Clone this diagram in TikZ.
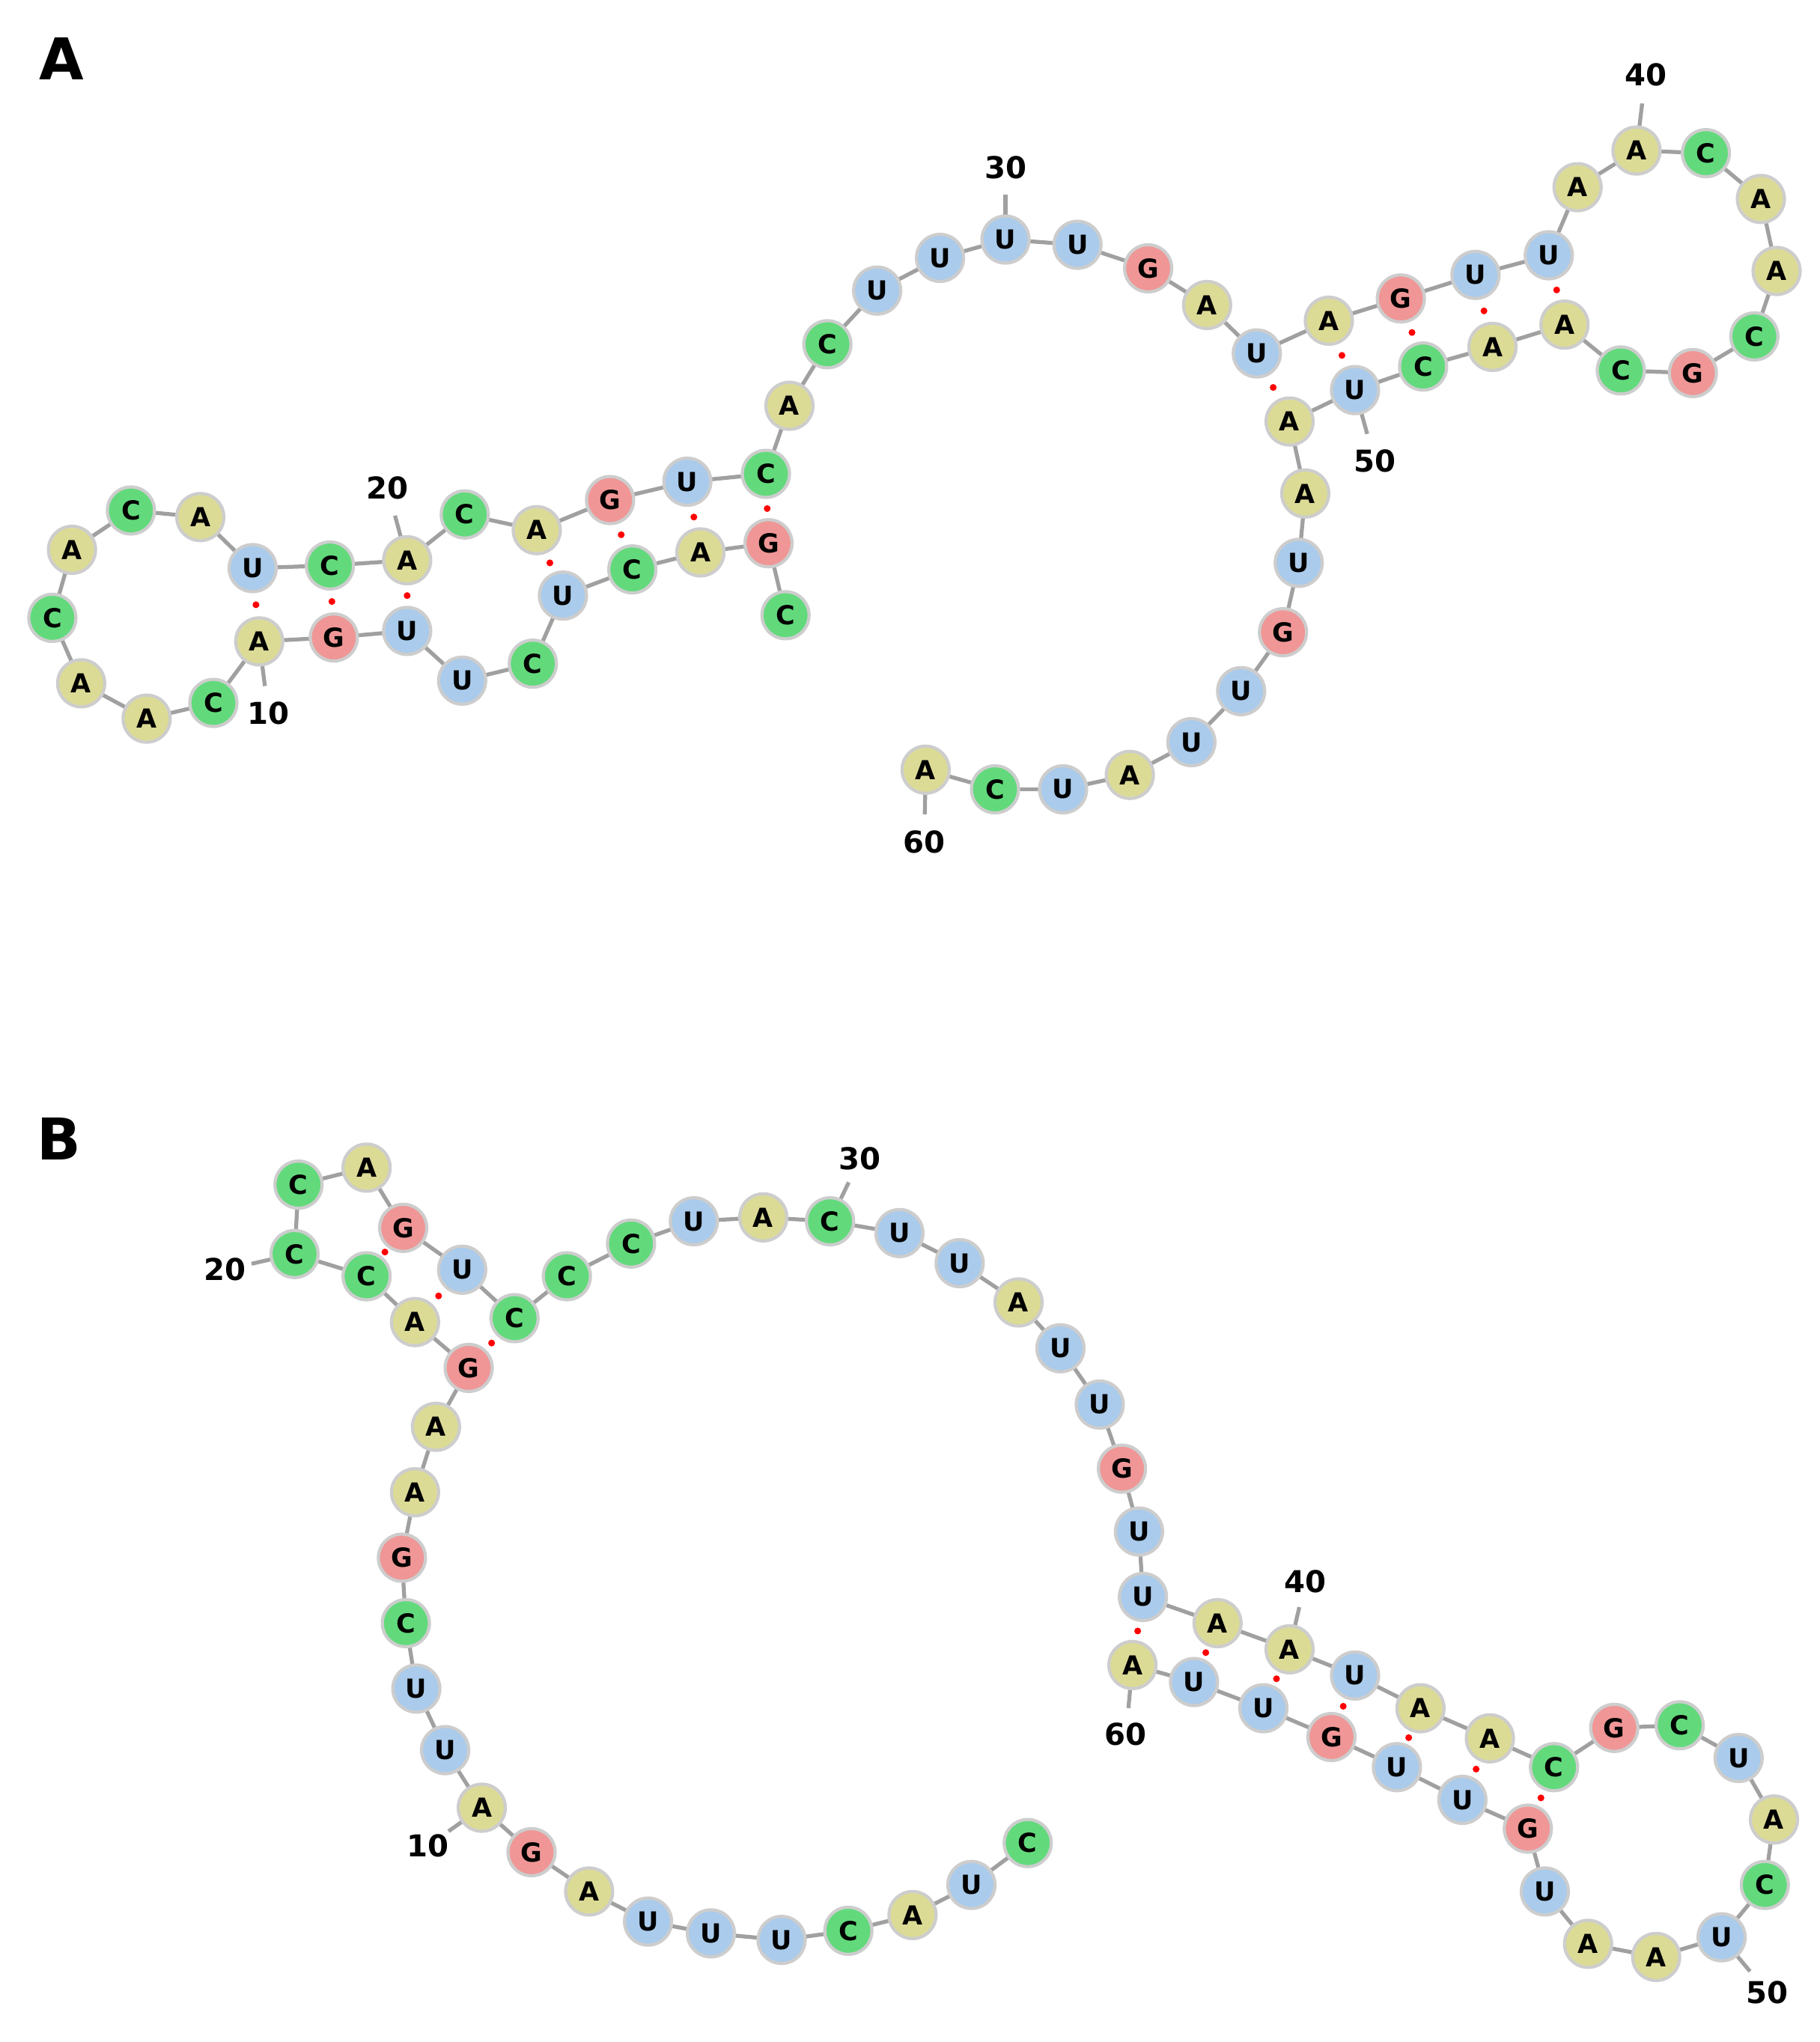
\documentclass[tikz,border=0pt]{standalone}
\usepackage{fontspec}
\setmainfont{DejaVu Sans}
\usetikzlibrary{backgrounds,calc}
\definecolor{colA}{RGB}{220,219,150}
\definecolor{colC}{RGB}{98,218,124}
\definecolor{colU}{RGB}{170,203,235}
\definecolor{colG}{RGB}{240,150,150}
\definecolor{rim}{RGB}{205,205,205}
\definecolor{bbc}{RGB}{160,160,160}
\tikzset{
 nt/.style={circle,draw=rim,line width=1.2pt,fill=col#1,minimum size=18pt,inner sep=0pt,font=\fontsize{10}{12}\selectfont\bfseries},
 bb/.style={draw=bbc,line width=1.5pt},
 pairdot/.style={fill=red,circle,inner sep=0pt,minimum size=2.6pt},
 numlab/.style={font=\fontsize{11.5}{13}\selectfont\bfseries},
 panel/.style={font=\fontsize{22}{26}\selectfont\bfseries}
}
\begin{document}
\begin{tikzpicture}[x=0.5pt,y=-0.5pt]
\useasboundingbox (0,0) rectangle (1390,1560);
\node[panel] (pA) at (47,45) {A};
\node[panel] (pB) at (45,870) {B};
% Panel A
\foreach \i/\x/\y/\b in {1/600/470/C,2/587/415/G,3/535/422/A,4/483/435/C,5/430/455/U,6/407/507/C,7/353/520/U,8/311/482/U,9/255/487/G,10/198/490/A,
11/163/537/C,12/112/549/A,13/62/522/A,14/40/472/C,15/55/420/A,16/100/390/C,17/153/395/A,18/193/434/U,19/252/432/C,20/311/428/A,
21/355/393/C,22/410/405/A,23/466/382/G,24/525/368/U,25/585/362/C,26/603/310/A,27/632/263/C,28/670/222/U,29/718/197/U,30/768/183/U,
31/823/187/U,32/877/205/G,33/922/233/A,34/960/270/U,35/1015/245/A,36/1070/228/G,37/1127/210/U,38/1183/195/U,39/1205/143/A,40/1250/115/A,
41/1303/117/C,42/1345/152/A,43/1357/207/A,44/1340/257/C,45/1293/285/G,46/1238/283/C,47/1195/248/A,48/1140/265/A,49/1087/280/C,50/1035/298/U,
51/985/322/A,52/997/377/A,53/992/430/U,54/980/483/G,55/948/528/U,56/910/567/U,57/863/592/A,58/812/603/U,59/760/603/C,60/707/588/A}
 \node[nt=\b] (a\i) at (\x,\y) {\b};
\begin{scope}[on background layer]
\foreach \i [evaluate=\i as \j using int(\i+1)] in {1,...,59} \draw[bb] (a\i.center) -- (a\j.center);
\end{scope}
\foreach \p/\q in {2/25,3/24,4/23,5/22,8/20,9/19,10/18,34/51,35/50,36/49,37/48,38/47}
 \node[pairdot] at ($(a\p)!0.5!(a\q)$) {};
\foreach \n/\x/\y/\t in {10/205/545/10,20/296/373/20,30/768/128/30,40/1257/57/40,50/1050/352/50,60/706/643/60}{
 \node[numlab] (la\t) at (\x,\y) {\t};
 \begin{scope}[on background layer]\draw[bb] (a\n.center) -- ($(a\n)!0.62!(la\t)$);\end{scope}}
% Panel B
\foreach \i/\x/\y/\b in {1/785/1408/C,2/742/1440/U,3/697/1463/A,4/648/1475/C,5/597/1482/U,6/543/1477/U,7/495/1468/U,8/450/1445/A,9/406/1415/G,10/368/1381/A,
11/340/1337/U,12/318/1290/U,13/310/1240/C,14/307/1190/G,15/317/1140/A,16/333/1090/A,17/358/1045/G,18/317/1010/A,19/280/975/C,20/225/958/C,
21/228/905/C,22/280/892/A,23/308/938/G,24/353/970/U,25/393/1007/C,26/433/975/C,27/482/950/C,28/530/933/U,29/583/930/A,30/634/933/C,
31/687/942/U,32/733/965/U,33/778/995/A,34/810/1030/U,35/840/1073/U,36/857/1122/G,37/870/1170/U,38/873/1220/U,39/930/1240/A,40/985/1260/A,
41/1035/1280/U,42/1085/1305/A,43/1138/1328/A,44/1187/1350/C,45/1233/1320/G,46/1283/1318/C,47/1328/1343/U,48/1355/1390/A,49/1348/1440/C,50/1315/1480/U,
51/1265/1495/A,52/1213/1485/A,53/1180/1445/U,54/1167/1397/G,55/1117/1375/U,56/1067/1350/U,57/1017/1327/G,58/965/1305/U,59/912/1285/U,60/865/1272/A}
 \node[nt=\b] (b\i) at (\x,\y) {\b};
\begin{scope}[on background layer]
\foreach \i [evaluate=\i as \j using int(\i+1)] in {1,...,59} \draw[bb] (b\i.center) -- (b\j.center);
\end{scope}
\foreach \p/\q in {19/23,18/24,17/25,38/60,39/59,40/58,41/57,42/56,43/55,44/54}
 \node[pairdot] at ($(b\p)!0.5!(b\q)$) {};
\foreach \n/\x/\y/\t in {10/327/1410/10,20/172/970/20,30/657/885/30,40/997/1208/40,50/1350/1522/50,60/860/1325/60}{
 \node[numlab] (lb\t) at (\x,\y) {\t};
 \begin{scope}[on background layer]\draw[bb] (b\n.center) -- ($(b\n)!0.62!(lb\t)$);\end{scope}}
\end{tikzpicture}
\end{document}
